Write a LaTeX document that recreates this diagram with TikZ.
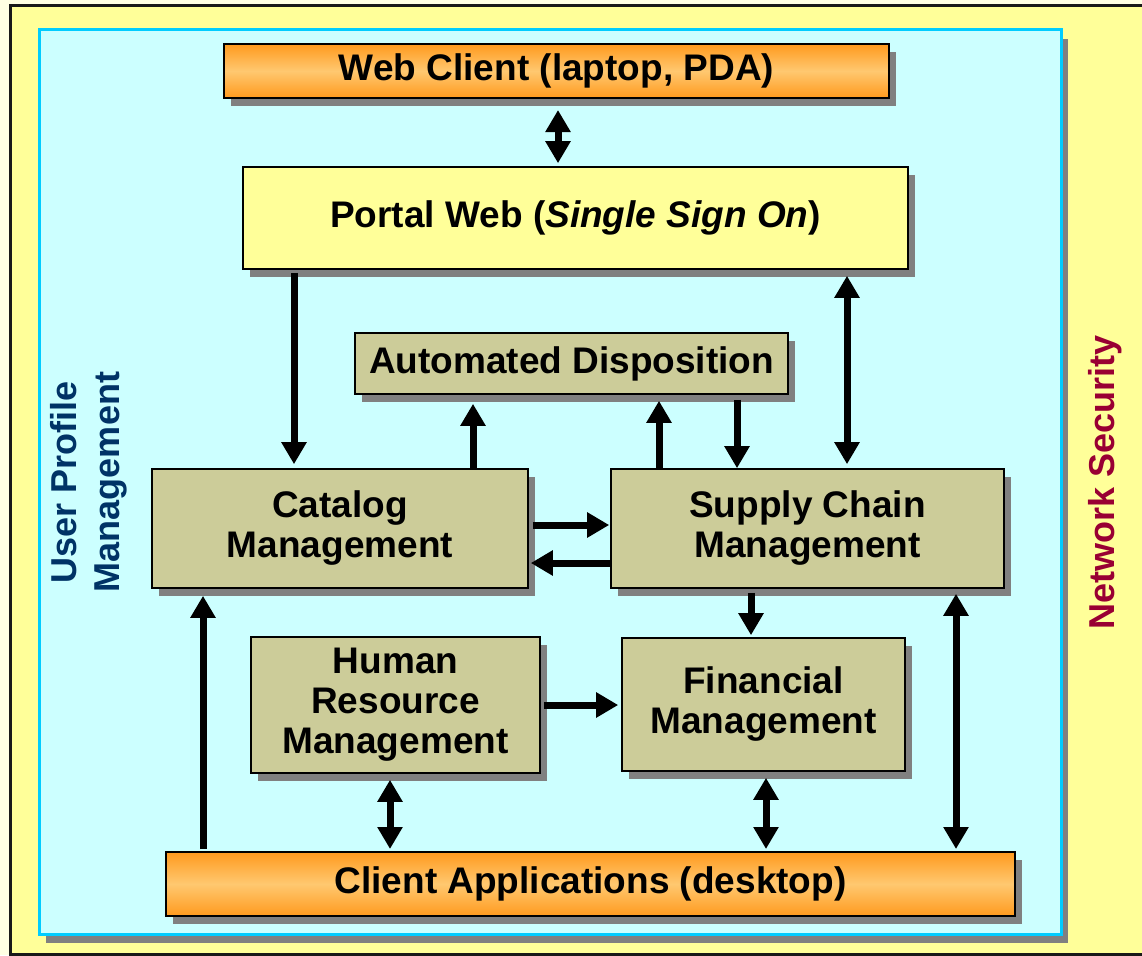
\documentclass[tikz,border=0pt]{standalone}
\usepackage{fontspec}
\setmainfont{Liberation Sans}
\usetikzlibrary{arrows.meta, shadows}
\definecolor{paper}{HTML}{FFFFE3}
\definecolor{frameyellow}{HTML}{FFFF99}
\definecolor{panelcyan}{HTML}{CCFFFF}
\definecolor{panelline}{HTML}{00CCFF}
\definecolor{boxkhaki}{HTML}{CCCC99}
\definecolor{portalyellow}{HTML}{FFFF99}
\definecolor{orangedeep}{HTML}{FF9A1E}
\definecolor{orangepale}{HTML}{FFC870}
\definecolor{shadowgray}{HTML}{808080}
\definecolor{profileblue}{HTML}{003366}
\definecolor{securityred}{HTML}{990033}
\tikzset{
  shadowed/.style={general shadow={fill=shadowgray, shadow xshift=7pt, shadow yshift=-8pt}},
  unit/.style={draw=black, line width=1.6pt, shadowed, align=center, inner sep=0pt},
  module/.style={unit, fill=boxkhaki},
  endpoint/.style={unit, line width=2pt, top color=orangedeep, bottom color=orangedeep, middle color=orangepale},
  flow/.style={line width=7pt, -{Triangle[length=22pt, width=24pt]}},
  twoway/.style={line width=7pt, {Triangle[length=22pt, width=24pt]}-{Triangle[length=22pt, width=24pt]}},
  every node/.append style={font=\bfseries\fontsize{37}{40}\selectfont}
}
\begin{document}
\begin{tikzpicture}[x=1pt, y=-1pt]
\useasboundingbox (0,0) rectangle (1142,955);
\fill[paper] (0,0) rectangle (1142,955);
\draw[line width=3pt, draw=black!90, fill=frameyellow] (10,6) rectangle (1170,954);
\draw[line width=3pt, draw=panelline, fill=panelcyan,
  general shadow={fill=shadowgray, shadow xshift=7pt, shadow yshift=-9pt}] (39,30) rectangle (1061,934);

\node[endpoint, minimum width=665, minimum height=54] (web) at (556.5,71) {Web Client (laptop, PDA)};
\node[unit, fill=portalyellow, minimum width=665, minimum height=102] (portal) at (575.5,218) {Portal Web (\textit{Single Sign On})};
\node[module, minimum width=433, minimum height=61] (auto) at (571.5,363.5) {Automated Disposition};
\node[module, minimum width=376, minimum height=119] (catalog) at (340,528.5) {Catalog\\Management};
\node[module, minimum width=393, minimum height=119] (supply) at (807.5,528.5) {Supply Chain\\Management};
\node[module, minimum width=289, minimum height=136] (hr) at (395.5,705) {Human\\Resource\\Management};
\node[module, minimum width=283, minimum height=133] (fin) at (763.5,704.5) {Financial\\Management};
\node[endpoint, minimum width=849, minimum height=64] (client) at (590.5,884) {Client Applications (desktop)};

\node[rotate=90, text=profileblue, align=center, font=\bfseries\fontsize{36}{43}\selectfont] (profile) at (89,482) {User Profile\\Management};
\node[rotate=90, text=securityred, font=\bfseries\fontsize{36}{43}\selectfont] (security) at (1105,482) {Network Security};

\coordinate (colweb) at (558,0);
\coordinate (colportal) at (294,0);
\coordinate (colcatup) at (473,0);
\coordinate (colsupup) at (659,0);
\coordinate (colsupdown) at (737,0);
\coordinate (colsso) at (847,0);
\coordinate (colfin) at (751,0);
\coordinate (coldesk) at (203,0);
\coordinate (colhr) at (390,0);
\coordinate (colfindesk) at (766,0);
\coordinate (colsupdesk) at (956,0);
\coordinate (rowto) at (0,525);
\coordinate (rowback) at (0,563);
\coordinate (rowhr) at (0,705);

\draw[twoway, shorten <=11pt, shorten >=3pt] (web.south -| colweb) -- (portal.north -| colweb);
\draw[flow, shorten <=3pt, shorten >=4pt] (portal.south -| colportal) -- (catalog.north -| colportal);
\draw[flow, shorten >=9pt] (catalog.north -| colcatup) -- (auto.south -| colcatup);
\draw[flow, shorten >=6pt] (supply.north -| colsupup) -- (auto.south -| colsupup);
\draw[flow, shorten <=5pt] (auto.south -| colsupdown) -- (supply.north -| colsupdown);
\draw[twoway, shorten <=6pt, shorten >=4pt] (portal.south -| colsso) -- (supply.north -| colsso);
\draw[flow, shorten <=4pt, shorten >=1pt] (catalog.east |- rowto) -- (supply.west |- rowto);
\draw[flow, shorten >=2pt] (supply.west |- rowback) -- (catalog.east |- rowback);
\draw[flow, shorten <=4pt, shorten >=2pt] (supply.south -| colfin) -- (fin.north -| colfin);
\draw[flow, shorten <=3pt, shorten >=3pt] (hr.east |- rowhr) -- (fin.west |- rowhr);
\draw[flow, shorten <=2pt, shorten >=7pt] (client.north -| coldesk) -- (catalog.south -| coldesk);
\draw[twoway, shorten <=6pt, shorten >=2pt] (hr.south -| colhr) -- (client.north -| colhr);
\draw[twoway, shorten <=6pt, shorten >=2pt] (fin.south -| colfindesk) -- (client.north -| colfindesk);
\draw[twoway, shorten <=5pt, shorten >=2pt] (supply.south -| colsupdesk) -- (client.north -| colsupdesk);
\end{tikzpicture}
\end{document}
